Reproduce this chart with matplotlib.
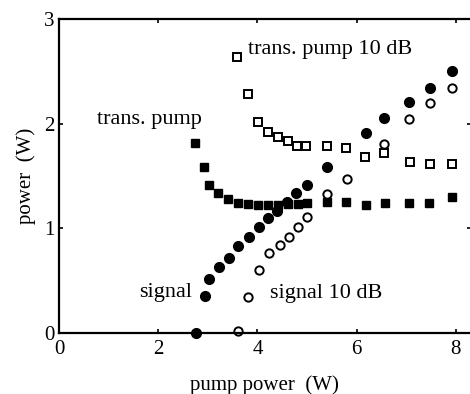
import matplotlib
matplotlib.use("Agg")
from matplotlib import pyplot as plt

# trans. pump (filled squares)
pump_x = [2.74, 2.92, 3.02, 3.21, 3.41, 3.61, 3.81, 4.01, 4.21, 4.42, 4.62, 4.82, 5.00,
          5.40, 5.79, 6.19, 6.57, 7.06, 7.46, 7.92]
pump_y = [1.82, 1.59, 1.41, 1.34, 1.28, 1.24, 1.23, 1.22, 1.22, 1.22, 1.23, 1.23, 1.24,
          1.25, 1.25, 1.22, 1.24, 1.24, 1.24, 1.30]

# trans. pump 10 dB (open squares)
pump10_x = [3.59, 3.81, 4.01, 4.21, 4.42, 4.62, 4.80, 4.98, 5.40, 5.79, 6.17, 6.55, 7.08, 7.48, 7.92]
pump10_y = [2.64, 2.28, 2.02, 1.92, 1.87, 1.83, 1.79, 1.79, 1.79, 1.77, 1.68, 1.72, 1.63, 1.61, 1.61]

# signal (filled circles)
sig_x = [2.76, 2.94, 3.02, 3.23, 3.43, 3.61, 3.83, 4.03, 4.21, 4.40, 4.60, 4.78, 5.00,
         5.40, 6.19, 6.55, 7.06, 7.48, 7.92]
sig_y = [0.0, 0.35, 0.52, 0.63, 0.72, 0.83, 0.92, 1.01, 1.10, 1.17, 1.25, 1.34, 1.41,
         1.59, 1.91, 2.05, 2.21, 2.34, 2.50]

# signal 10 dB (open circles)
sig10_x = [3.61, 3.81, 4.03, 4.23, 4.46, 4.64, 4.82, 5.00, 5.40, 5.81, 6.55, 7.06, 7.48, 7.92]
sig10_y = [0.02, 0.34, 0.60, 0.76, 0.84, 0.92, 1.01, 1.11, 1.33, 1.47, 1.81, 2.04, 2.20, 2.34]

xticks = [0, 2, 4, 6, 8]
yticks = [0, 1, 2, 3]

serif = "Liberation Serif"

fig = plt.figure(figsize=(4.7, 3.94), dpi=100)
ax = fig.add_axes([59 / 470, 61 / 394, 8.3 * 49.6 / 470, 314 / 394])

ax.plot(pump_x, pump_y, ls="none", marker="s", ms=6, color="black", clip_on=False)
ax.plot(pump10_x, pump10_y, ls="none", marker="s", ms=6, mfc="white", mec="black",
        mew=1.4, clip_on=False)
ax.plot(sig_x, sig_y, ls="none", marker="o", ms=7, color="black", clip_on=False)
ax.plot(sig10_x, sig10_y, ls="none", marker="o", ms=6, mfc="white", mec="black",
        mew=1.4, clip_on=False)

ax.text(0.77, 2.0, "trans. pump", family=serif, fontsize=16, va="baseline")
ax.text(3.81, 2.67, "trans. pump 10 dB", family=serif, fontsize=16, va="baseline")
ax.text(1.61, 0.34, "signal", family=serif, fontsize=16, va="baseline")
ax.text(4.25, 0.33, "signal 10 dB", family=serif, fontsize=16, va="baseline")

ax.set_xlim(0, 8.3)
ax.set_ylim(0, 3)
ax.set_xticks(xticks)
ax.set_yticks(yticks)
ax.set_xticklabels([str(t) for t in xticks], family=serif, fontsize=15)
ax.set_yticklabels([str(t) for t in yticks], family=serif, fontsize=15)
ax.tick_params(direction="in", length=3, width=1.2, top=True, right=True)
ax.tick_params(axis="x", pad=5)
ax.tick_params(axis="y", pad=3)

for s in ax.spines.values():
    s.set_linewidth(1.6)
ax.spines["right"].set_visible(False)

ax.set_xlabel("pump power  (W)", family=serif, fontsize=15, labelpad=12)
ax.set_ylabel("power  (W)", family=serif, fontsize=15, labelpad=6)

fig.savefig("out.png", dpi=100)
